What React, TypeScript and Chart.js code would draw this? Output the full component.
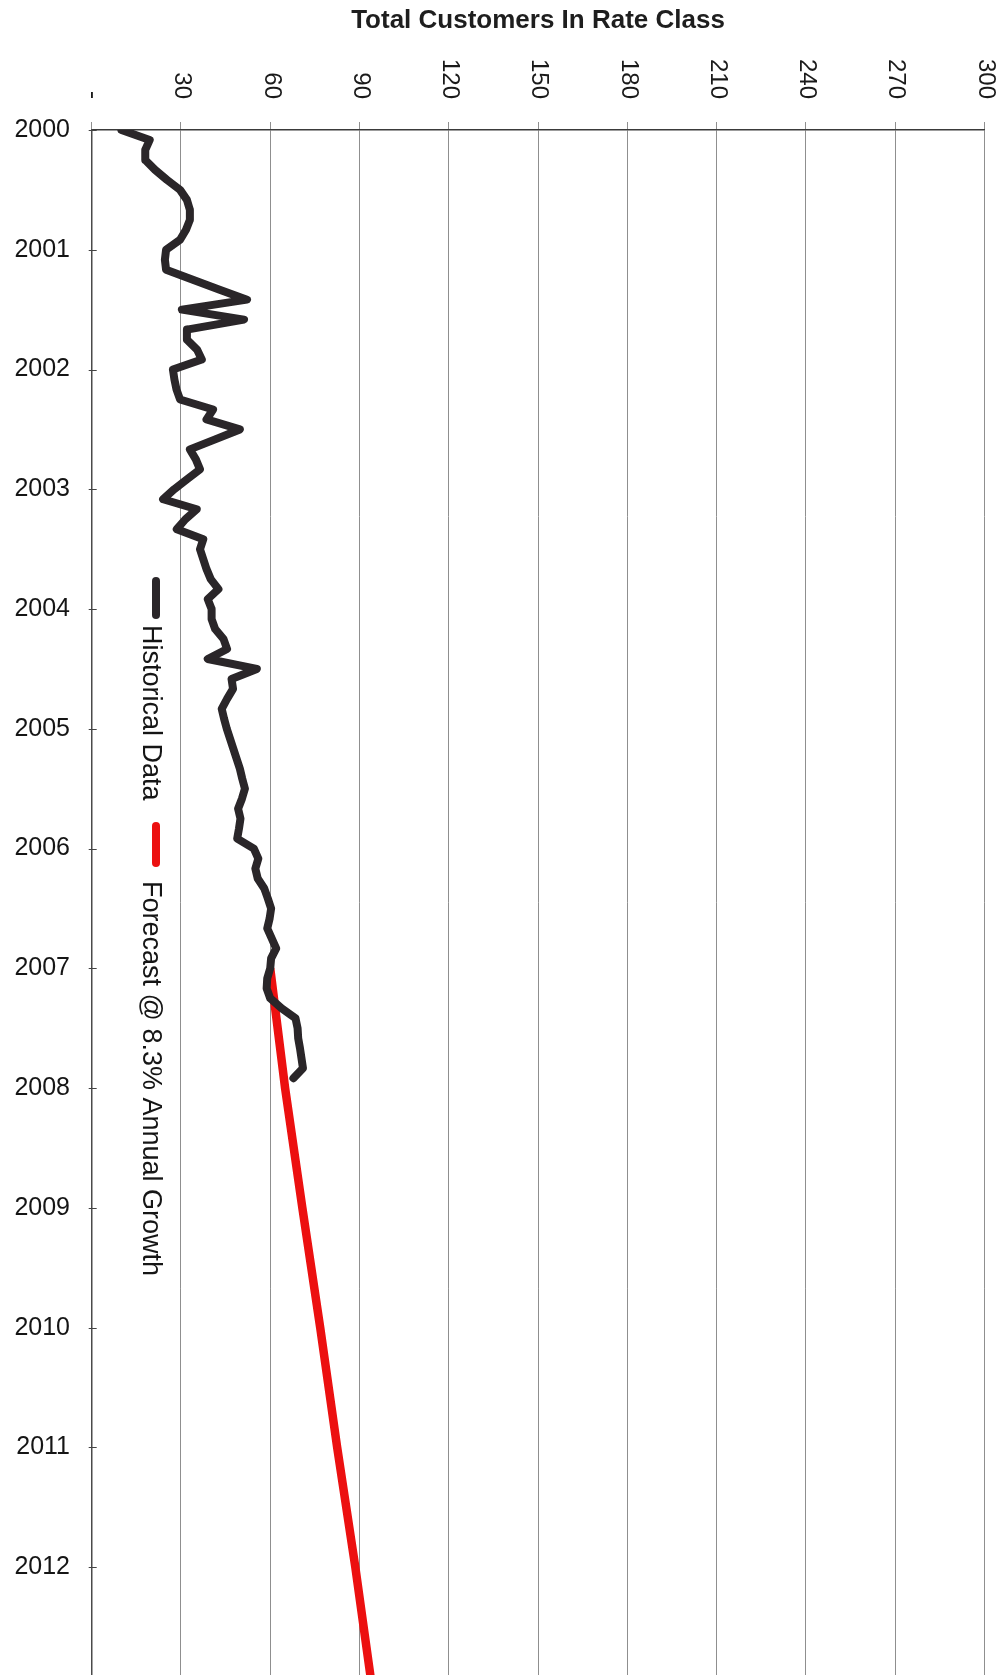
import React, { useEffect, useRef } from "react";
import { Chart, registerables } from "chart.js";

Chart.register(...registerables);

const CHART_TITLE = "Total Customers In Rate Class";
const VALUE_TICKS = [0, 30, 60, 90, 120, 150, 180, 210, 240, 270, 300];
const VALUE_TICK_LABELS = ["-", "30", "60", "90", "120", "150", "180", "210", "240", "270", "300"];
const YEAR_TICKS = [2000, 2001, 2002, 2003, 2004, 2005, 2006, 2007, 2008, 2009, 2010, 2011, 2012];
const YEAR_MIN = 2000;
const YEAR_MAX = 2012.9;

// Monthly historical customer counts, Jan 2000 .. Dec 2007
const HIST_START_YEAR = 2000;
const HIST_VALUES = [
  10, 19.5, 18, 18, 21.3, 25.3, 29.7, 32, 33, 33, 31.7, 29.7,
  25, 24.6, 25, 34, 43, 52.2, 30.3, 51.2, 32, 32, 35.4, 37,
  27.3, 27.8, 28.5, 29.7, 40.8, 38.6, 49.8, 41.5, 33, 35, 36.4, 32,
  27.7, 24, 35.3, 31.5, 28.6, 37.5, 36.4, 37.5, 38.6, 40, 42.6, 39,
  40.3, 40.3, 41.5, 44.3, 45.5, 39, 55.5, 47, 47.5, 45.5, 43.7, 44.5,
  45.4, 46.5, 47.6, 48.7, 49.8, 50.6, 51.5, 50.5, 49.2, 50, 49.5, 48.9,
  54.5, 56, 55, 55.8, 58, 59.2, 60.3, 59.8, 59, 60.5, 62, 60.3,
  60, 59, 58.8, 60, 63.8, 68.5, 69.2, 69.4, 70, 70.5, 71, 67.8,
];

const FORECAST_YEARS = [2007, 2008, 2009, 2010, 2011, 2012, 2013];
const FORECAST_VALUES = [60, 65, 70.8, 76.8, 82.5, 88.6, 94.2];

const LEGEND_LABELS = ["Historical Data", "Forecast @ 8.3% Annual Growth"];
const SERIES_COLORS = ["#2a2629", "#ec1010"];

const FONT = '"Liberation Sans", Arial, Helvetica, sans-serif';

const overlayPlugin = {
  id: "overlay",
  afterDraw(chart: any) {
    const ctx = chart.ctx as CanvasRenderingContext2D;
    const area = chart.chartArea;
    const xs = chart.scales.x;
    const ys = chart.scales.y;
    ctx.save();

    // Title
    ctx.font = `bold 26px ${FONT}`;
    ctx.fillStyle = "#1e1e1e";
    ctx.textAlign = "center";
    ctx.textBaseline = "alphabetic";
    ctx.fillText(CHART_TITLE, (area.left + area.right) / 2, 28);

    // Rotated value tick labels (reading top to bottom)
    ctx.font = `24px ${FONT}`;
    ctx.fillStyle = "#1a1a1a";
    VALUE_TICKS.forEach((v, i) => {
      const px = xs.getPixelForValue(v);
      ctx.save();
      ctx.translate(px + 1, area.top - 31);
      ctx.rotate(Math.PI / 2);
      ctx.textAlign = "right";
      ctx.textBaseline = "middle";
      ctx.fillText(VALUE_TICK_LABELS[i], 0, 0);
      ctx.restore();
    });

    // Small year tick marks on the left axis
    ctx.strokeStyle = "#444";
    ctx.lineWidth = 1;
    YEAR_TICKS.forEach((y) => {
      const py = Math.round(ys.getPixelForValue(y)) + 0.5;
      ctx.beginPath();
      ctx.moveTo(area.left - 3, py);
      ctx.lineTo(area.left + 5, py);
      ctx.stroke();
    });

    // Rotated legend
    const legendX = 156;
    const items = [
      { y0: 577, y1: 619, textY: 625 },
      { y0: 822, y1: 867, textY: 881 },
    ];
    items.forEach((it, i) => {
      ctx.strokeStyle = SERIES_COLORS[i];
      ctx.lineWidth = 8;
      ctx.lineCap = "round";
      ctx.beginPath();
      ctx.moveTo(legendX, it.y0 + 4);
      ctx.lineTo(legendX, it.y1 - 4);
      ctx.stroke();
      ctx.save();
      ctx.font = `27px ${FONT}`;
      ctx.fillStyle = "#151515";
      ctx.translate(143, it.textY);
      ctx.rotate(Math.PI / 2);
      ctx.textAlign = "left";
      ctx.textBaseline = "alphabetic";
      ctx.fillText(LEGEND_LABELS[i], 0, 0);
      ctx.restore();
    });

    ctx.restore();
  },
};

export default function App() {
  const canvasRef = useRef<HTMLCanvasElement | null>(null);

  useEffect(() => {
    const canvas = canvasRef.current;
    if (!canvas) return;
    const histData = HIST_VALUES.map((v, i) => ({ x: v, y: HIST_START_YEAR + i / 12 }));
    const fcData = FORECAST_YEARS.map((y, i) => ({ x: FORECAST_VALUES[i], y }));

    const chart = new Chart(canvas, {
      type: "scatter",
      data: {
        datasets: [
          {
            label: LEGEND_LABELS[0],
            data: histData,
            showLine: true,
            borderColor: SERIES_COLORS[0],
            backgroundColor: SERIES_COLORS[0],
            borderWidth: 8,
            pointRadius: 0,
            borderJoinStyle: "round",
            borderCapStyle: "round",
            tension: 0,
            clip: 0,
          } as any,
          {
            label: LEGEND_LABELS[1],
            data: fcData,
            showLine: true,
            borderColor: SERIES_COLORS[1],
            backgroundColor: SERIES_COLORS[1],
            borderWidth: 8.5,
            pointRadius: 0,
            borderJoinStyle: "round",
            borderCapStyle: "butt",
            tension: 0,
            clip: 0,
          } as any,
        ],
      },
      options: {
        animation: false,
        responsive: false,
        events: [],
        layout: { padding: { top: 0, left: 0, right: 21.7, bottom: 0 } },
        plugins: {
          legend: { display: false },
          title: { display: false },
          tooltip: { enabled: false },
        },
        scales: {
          x: {
            type: "linear",
            position: "top",
            min: 0,
            max: 300,
            afterBuildTicks: (s: any) => {
              s.ticks = VALUE_TICKS.map((v) => ({ value: v }));
            },
            afterFit: (s: any) => {
              s.height = 130;
              s.paddingLeft = 0;
              s.paddingRight = 0;
            },
            ticks: { display: false },
            grid: {
              color: "#8f8f8f",
              lineWidth: 1,
              drawTicks: true,
              tickLength: 8,
              tickColor: "#8f8f8f",
            },
            border: { display: true, color: "#3a3a3a", width: 1.5 },
          },
          y: {
            type: "linear",
            reverse: true,
            min: YEAR_MIN,
            max: YEAR_MAX,
            afterBuildTicks: (s: any) => {
              s.ticks = YEAR_TICKS.map((v) => ({ value: v }));
            },
            afterFit: (s: any) => {
              s.width = 91.7;
              s.paddingTop = 0;
              s.paddingBottom = 0;
            },
            ticks: {
              display: true,
              padding: 21.7,
              color: "#151515",
              font: { family: FONT, size: 25 },
              callback: (v: any) => String(v),
            },
            grid: { display: false, drawTicks: false },
            border: { display: true, color: "#4a4a4a", width: 1.5 },
          },
        },
      } as any,
      plugins: [overlayPlugin],
    });

    return () => chart.destroy();
  }, []);

  return (
    <div style={{ position: "absolute", left: 0, top: 0, width: 1006, height: 1675, background: "#fff" }}>
      <canvas ref={canvasRef} width={1006} height={1675} style={{ display: "block" }} />
    </div>
  );
}
